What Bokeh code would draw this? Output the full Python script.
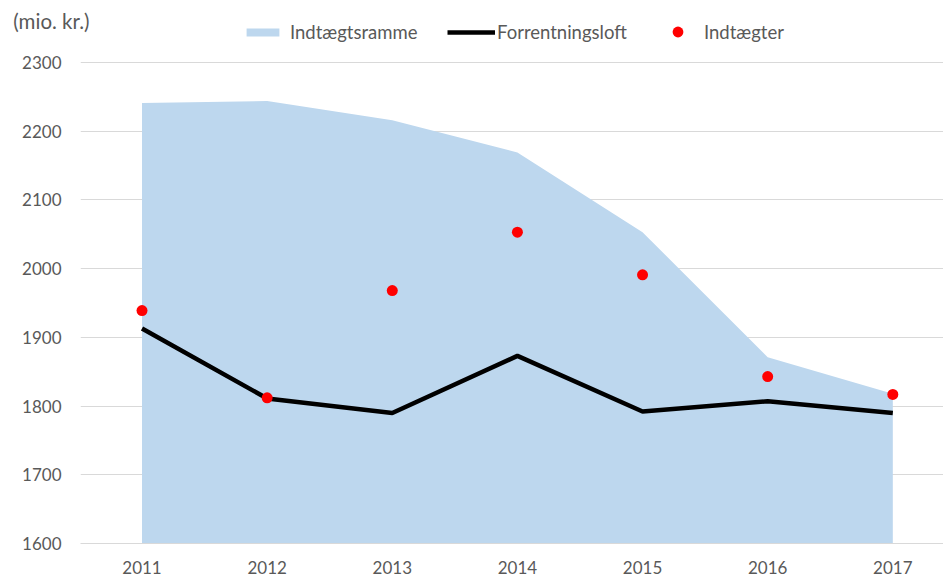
from bokeh.plotting import figure
from bokeh.models import Range1d, Legend, LegendItem, LinearAxis, FixedTicker
from bokeh.embed import file_html
from bokeh.resources import INLINE

years = [2011, 2012, 2013, 2014, 2015, 2016, 2017]
indtaegtsramme = [2241, 2244, 2216, 2169, 2053, 1871, 1818]
forrentningsloft = [1913, 1811, 1790, 1873, 1792, 1807, 1790]
indtaegter = [1939, 1812, 1968, 2053, 1991, 1843, 1817]
y_ticks = [1600, 1700, 1800, 1900, 2000, 2100, 2200, 2300]
unit_label = "(mio. kr.)"
unit_pos = 2360

FONT = "Lato"
TXT = "#595959"

p = figure(width=943, height=577, output_backend="svg", toolbar_location=None,
           x_range=Range1d(2010.5085, 2017.405), y_range=Range1d(1600, 2390.2),
           min_border_left=80, min_border_right=0, min_border_top=0, min_border_bottom=34)
p.frame_width = 863
p.frame_height = 543
p.outline_line_color = None
p.background_fill_color = "white"

area = p.varea(x=years, y1=[1600] * len(years), y2=indtaegtsramme, fill_color="#bdd7ee")
line = p.line(x=years, y=forrentningsloft, line_color="black", line_width=4.5)
dots = p.scatter(x=years, y=indtaegter, size=11, fill_color="#ff0000", line_color=None)

p.xgrid.grid_line_color = None
p.ygrid.grid_line_color = "#d9d9d9"
p.ygrid.grid_line_width = 1
p.yaxis.ticker = FixedTicker(ticks=y_ticks)
p.xaxis.ticker = FixedTicker(ticks=years)

for ax in (p.xaxis[0], p.yaxis[0]):
    ax.major_tick_line_color = None
    ax.minor_tick_line_color = None
    ax.major_tick_out = 0
    ax.major_tick_in = 0
    ax.major_label_text_font = FONT
    ax.major_label_text_font_size = "17px"
    ax.major_label_text_color = TXT
p.yaxis.axis_line_color = None
p.xaxis.axis_line_color = "#d9d9d9"
p.yaxis.major_label_standoff = 19
p.xaxis.major_label_standoff = 17

unit_axis = LinearAxis(ticker=FixedTicker(ticks=[unit_pos]),
                       major_label_overrides={unit_pos: unit_label},
                       axis_line_color=None, major_tick_line_color=None,
                       minor_tick_line_color=None, major_tick_out=0, major_tick_in=0,
                       major_label_standoff=-70, major_label_text_font=FONT,
                       major_label_text_font_size="20.5px", major_label_text_color=TXT)
p.add_layout(unit_axis, "left")

common = dict(orientation="horizontal", padding=0, margin=0, border_line_color=None,
              background_fill_alpha=0, label_text_font=FONT,
              label_text_font_size="18.5px", label_text_color=TXT)

leg_area = Legend(items=[LegendItem(label="Indtægtsramme", renderers=[area])],
                  location=(162, 500), glyph_width=41, glyph_height=10,
                  label_standoff=7, **common)
leg_line = Legend(items=[LegendItem(label="Forrentningsloft", renderers=[line])],
                  location=(367, 500), glyph_width=48, glyph_height=10,
                  label_standoff=2, **common)
leg_dots = Legend(items=[LegendItem(label="Indtægter", renderers=[dots])],
                  location=(584, 498), glyph_width=27, glyph_height=27,
                  label_standoff=13, **common)
for lg in (leg_area, leg_line, leg_dots):
    p.add_layout(lg, "center")

open("out.html", "w").write(file_html(p, INLINE))
